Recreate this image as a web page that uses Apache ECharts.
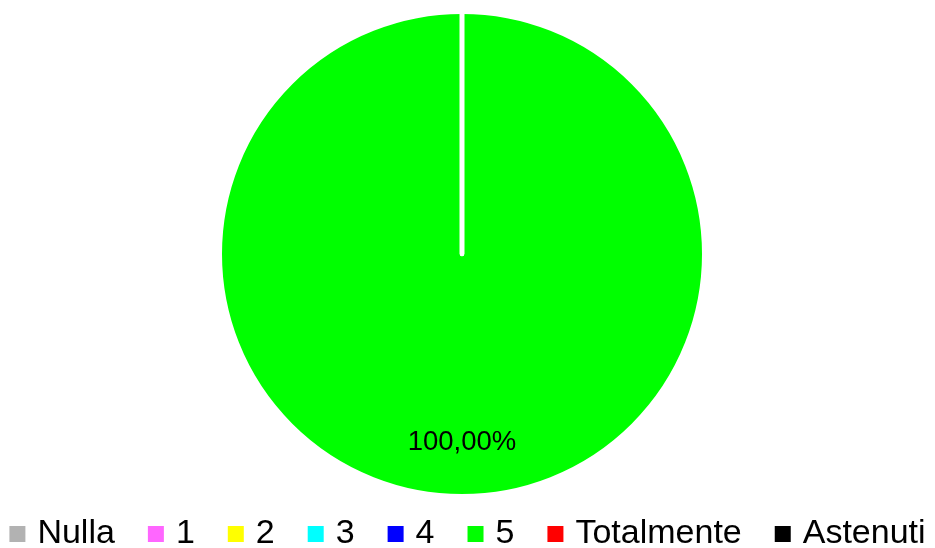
<!DOCTYPE html>
<html>
<head>
<meta charset="utf-8">
<script src="https://cdn.jsdelivr.net/npm/echarts@6/dist/echarts.min.js"></script>
<style>
  html, body { margin: 0; padding: 0; background: #ffffff; }
  #chart { width: 935px; height: 548px; }
</style>
</head>
<body>
<div id="chart"></div>
<script>
// Vote categories and their share of responses
const categories = ['Nulla', '1', '2', '3', '4', '5', 'Totalmente', 'Astenuti'];
const shares = [0, 0, 0, 0, 0, 100, 0, 0];
const sliceColors = ['#B2B2B2', '#FF66FF', '#FFFF00', '#00FFFF', '#0000FF', '#00FF00', '#FF0000', '#000000'];

const FONT = '"Liberation Sans", Arial, sans-serif';
const SLICE_BORDER = 4.6;

const total = shares.reduce((a, b) => a + b, 0);
const pieData = categories.map((name, i) => ({
  name: name,
  value: shares[i],
  itemStyle: { color: sliceColors[i] },
  label: { show: shares[i] > 0 }
}));

const chart = echarts.init(document.getElementById('chart'), null, { renderer: 'canvas' });
chart.setOption({
  backgroundColor: '#ffffff',
  animation: false,
  legend: {
    data: categories,
    left: 'center',
    top: 512,
    icon: 'rect',
    itemWidth: 16,
    itemHeight: 16,
    itemGap: 33,
    selectedMode: false,
    itemStyle: { borderWidth: 0 },
    textStyle: {
      fontFamily: FONT,
      fontSize: 34,
      color: '#000000',
      padding: [0, 0, 0, 7]
    }
  },
  series: [{
    type: 'pie',
    center: [462, 254],
    radius: 240 + SLICE_BORDER / 2,
    startAngle: 90,
    clockwise: true,
    avoidLabelOverlap: false,
    silent: true,
    itemStyle: { borderColor: '#ffffff', borderWidth: SLICE_BORDER },
    label: {
      position: 'inside',
      fontFamily: FONT,
      fontSize: 27.5,
      color: '#000000',
      formatter: p => (p.value / total * 100).toFixed(2).replace('.', ',') + '%'
    },
    labelLayout: { dy: 64 },
    labelLine: { show: false },
    emphasis: { disabled: true },
    data: pieData
  }]
});
</script>
</body>
</html>
